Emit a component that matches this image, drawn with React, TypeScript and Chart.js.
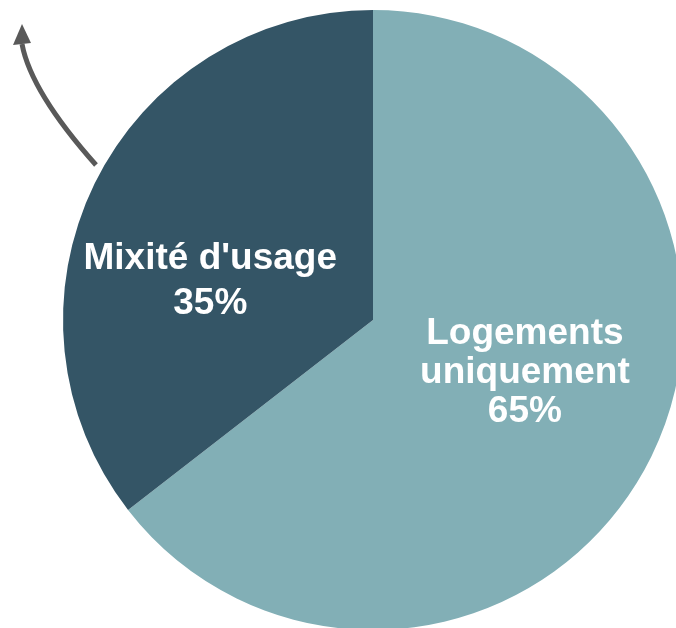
import React, { useEffect, useRef } from "react";
import { Chart, registerables } from "chart.js";

Chart.register(...registerables);

const categories = ["Logements uniquement", "Mixité d'usage"];
const values = [64.5, 35.5];
const colors = ["#82AFB6", "#345566"];
const labelLines = [["Logements", "uniquement", "65%"], ["Mixité d'usage", "35%"]];

const labelPlugin = {
  id: "sliceLabels",
  afterDatasetsDraw(chart: any, _args: any, opts: any) {
    const ctx = chart.ctx;
    const meta = chart.getDatasetMeta(0);
    meta.data.forEach((arc: any, i: number) => {
      const cfg = opts.labels[i];
      const r = arc.outerRadius;
      const cx = arc.x + cfg.dx * r;
      const cy = arc.y + cfg.dy * r;
      const lines = labelLines[i];
      ctx.save();
      ctx.fillStyle = "#ffffff";
      ctx.font = "bold 37px 'Liberation Sans', Arial, sans-serif";
      ctx.textAlign = "center";
      ctx.textBaseline = "alphabetic";
      const total = (lines.length - 1) * cfg.lh;
      lines.forEach((t: string, k: number) => {
        ctx.fillText(t, cx, cy - total / 2 + k * cfg.lh + 13);
      });
      ctx.restore();
    });
  },
};

const arrowPlugin = {
  id: "arrow",
  afterDraw(chart: any, _args: any, opts: any) {
    const ctx = chart.ctx;
    const [sx, sy, qx, qy, ex, ey, tx, ty] = opts.path;
    ctx.save();
    ctx.strokeStyle = "#595959";
    ctx.fillStyle = "#595959";
    ctx.lineWidth = 5;
    ctx.beginPath();
    ctx.moveTo(sx, sy);
    ctx.quadraticCurveTo(qx, qy, ex, ey);
    ctx.stroke();
    ctx.beginPath();
    ctx.moveTo(tx, ty);
    ctx.lineTo(ex - 9, ey + 1);
    ctx.lineTo(ex + 9, ey - 1);
    ctx.closePath();
    ctx.fill();
    ctx.restore();
  },
};

export default function App() {
  const ref = useRef<HTMLCanvasElement | null>(null);
  useEffect(() => {
    document.body.style.margin = "0";
    document.body.style.overflow = "hidden";
    const chart = new Chart(ref.current as HTMLCanvasElement, {
      type: "pie",
      data: {
        labels: categories,
        datasets: [{ data: values, backgroundColor: colors, borderWidth: 0 }],
      },
      options: {
        animation: false,
        responsive: false,
        layout: { padding: 10 },
        plugins: {
          legend: { display: false },
          tooltip: { enabled: false },
          sliceLabels: {
            labels: [
              { dx: 0.49, dy: 0.16, lh: 39 },
              { dx: -0.525, dy: -0.135, lh: 45 },
            ],
          },
          arrow: { path: [96, 165, 31, 92, 22, 44, 22, 24] },
        } as any,
      },
      plugins: [labelPlugin, arrowPlugin],
    });
    return () => chart.destroy();
  }, []);
  return (
    <div style={{ position: "fixed", left: 0, top: 0, width: 676, height: 628, overflow: "hidden", background: "#fff" }}>
      <canvas ref={ref} width={746} height={640} style={{ display: "block" }} />
    </div>
  );
}
